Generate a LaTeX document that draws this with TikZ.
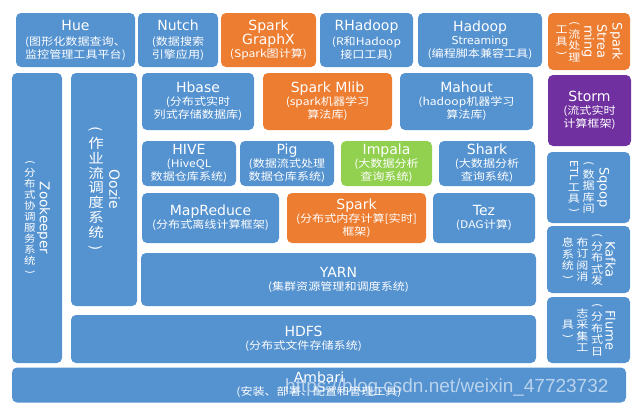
\documentclass[tikz,border=0pt]{standalone}
\usepackage{fontspec}
\setmainfont{DejaVu Sans}
\newfontfamily\cjk[FakeStretch=1.15]{Noto Sans CJK SC}
\newfontfamily\wmfont{Liberation Sans}
\usepackage{graphicx}
\usetikzlibrary{positioning}
\definecolor{hblue}{RGB}{84,146,208}
\definecolor{horange}{RGB}{237,125,49}
\definecolor{hgreen}{RGB}{146,208,80}
\definecolor{hpurple}{RGB}{112,48,160}

% title line, vertical columns, rotated latin words
\newcommand{\ttl}[1]{{\rmfamily\fontsize{14}{16}\selectfont #1}}
\newcommand{\vcolbody}[1]{\baselineskip=1.1em\lineskiplimit=-\maxdimen
  \def\\{\hss\egroup\hbox to 1.2em\bgroup\hss}%
  \hbox to 1.2em\bgroup\hss#1\hss\egroup}
\newcommand{\vtxt}[2][c]{\if c#1$\vcenter{\vcolbody{#2}}$\else\vtop{\vcolbody{#2}}\fi}
\newcommand{\rt}[1]{\raisebox{.8em}{\rotatebox{-90}{\rmfamily #1}}}
\newcommand{\rtc}[1]{$\vcenter{\hbox{\rt{#1}}}$}
\newcommand{\rp}[1]{\rotatebox[origin=c]{-90}{#1}}

\tikzset{
  blk/.style={rounded corners=5pt, fill=hblue, text=white, align=center,
    inner sep=0pt, font=\cjk\fontsize{10.5}{13}\selectfont},
  vblk/.style={rounded corners=5pt, fill=hblue, text=white,
    inner sep=0pt, font=\cjk\fontsize{10.5}{11.5}\selectfont},
}

\begin{document}
\begin{tikzpicture}[x=1pt,y=-1pt]
    \useasboundingbox (0,0) rectangle (637,413);

    % Top row
    \node[blk, minimum width=119, minimum height=54] (hue) at (75.5,40)
      {\ttl{Hue}\\[2pt](图形化数据查询、\\监控管理工具平台)};
    \node[blk, minimum width=80, minimum height=54] (nutch) at (178,40)
      {\ttl{Nutch}\\[2pt](数据搜索\\引擎应用)};
    \node[blk, fill=horange, minimum width=95, minimum height=54] (graphx) at (268.5,40)
      {\ttl{Spark}\\\ttl{GraphX}\\(Spark图计算)};
    \node[blk, minimum width=93, minimum height=54] (rhadoop) at (366.5,40)
      {\ttl{RHadoop}\\[2pt](R和Hadoop\\接口工具)};
    \node[blk, minimum width=124, minimum height=54] (hstream) at (480,40)
      {\ttl{Hadoop}\\{\rmfamily\fontsize{11}{13}\selectfont Streaming}\\(编程脚本兼容工具)};
    \node[vblk, fill=horange, minimum width=82, minimum height=57] (sstream) at (589,41.5)
      {\vtxt{工\\具\\\rp{)}}\vtxt{\rp{(}\\流\\处\\理}\hspace{1pt}%
       \rtc{\fontsize{13}{14}\selectfont ming}\hspace{3pt}%
       \rtc{\fontsize{13}{14}\selectfont Strea}\hspace{3pt}%
       \rtc{\fontsize{13}{14}\selectfont Spark}};

    % Left columns
    \node[vblk, minimum width=50, minimum height=290, font=\cjk\fontsize{10}{11}\selectfont] (zk) at (37,218)
      {\vtxt{\rp{(}\\分\\布\\式\\协\\调\\服\\务\\系\\统\\\rp{)}}\hspace{1pt}%
       \rtc{\fontsize{13.5}{15}\selectfont Zookeeper}};
    \node[vblk, minimum width=66, minimum height=233, font=\cjk\fontsize{13.5}{16}\selectfont] (oozie) at (104,189.5)
      {\vtxt{\rp{(}\\作\\业\\流\\调\\度\\系\\统\\\rp{)}}\hspace{5pt}%
       \rtc{\fontsize{14}{15}\selectfont Oozie}};

    % Second row
    \node[blk, minimum width=112, minimum height=57] (hbase) at (198,101.5)
      {\ttl{Hbase}\\(分布式实时\\列式存储数据库)};
    \node[blk, fill=horange, minimum width=129, minimum height=57] (mlib) at (327.5,101.5)
      {\ttl{Spark Mlib}\\(spark机器学习\\算法库)};
    \node[blk, minimum width=133, minimum height=57] (mahout) at (466.5,101.5)
      {\ttl{Mahout}\\(hadoop机器学习\\算法库)};
    \node[blk, fill=hpurple, minimum width=83, minimum height=71] (storm) at (589.5,110.5)
      {\ttl{Storm}\\(流式实时\\计算框架)};

    % Third row
    \node[blk, minimum width=94, minimum height=45] (hive) at (189,163.5)
      {\ttl{HIVE}\\(HiveQL\\数据仓库系统)};
    \node[blk, minimum width=94, minimum height=45] (pig) at (287,163.5)
      {\ttl{Pig}\\(数据流式处理\\数据仓库系统)};
    \node[blk, fill=hgreen, minimum width=91, minimum height=45] (impala) at (386.5,163.5)
      {\ttl{Impala}\\(大数据分析\\查询系统)};
    \node[blk, minimum width=96, minimum height=45] (shark) at (487,163.5)
      {\ttl{Shark}\\(大数据分析\\查询系统)};

    % Fourth row
    \node[blk, minimum width=137, minimum height=50] (mapred) at (210.5,218)
      {\ttl{MapReduce}\\(分布式离线计算框架)};
    \node[blk, fill=horange, minimum width=139, minimum height=50] (spark) at (356.5,218)
      {\ttl{Spark}\\(分布式内存计算[实时]\\框架)};
    \node[blk, minimum width=102, minimum height=50] (tez) at (484,218)
      {\ttl{Tez}\\(DAG计算)};

    % Base layers
    \node[blk, minimum width=395, minimum height=53] (yarn) at (338.5,279.5)
      {\ttl{YARN}\\(集群资源管理和调度系统)};
    \node[blk, minimum width=465, minimum height=48] (hdfs) at (303.5,339)
      {\ttl{HDFS}\\(分布式文件存储系统)};
    \node[blk, minimum width=614, minimum height=35] (ambari) at (319,385)
      {\ttl{Ambari}\\(安装、部署、配置和管理工具)};

    % Right column
    \node[vblk, minimum width=83, minimum height=71] (sqoop) at (588.5,187.5)
      {$\vcenter{\offinterlineskip\hbox to 1.2em{\hss\rt{\fontsize{11}{12}\selectfont ETL}\hss}\kern3pt
         \hbox{\vtxt[t]{工\\具\\\rp{)}}}}$\hspace{2pt}%
       \vtxt{\rp{(}\\数\\据\\库\\间}\hspace{2pt}%
       \rtc{\fontsize{13}{14}\selectfont Sqoop}};
    \node[vblk, minimum width=83, minimum height=67] (kafka) at (588.5,259.5)
      {\vtxt{息\\系\\统\\\rp{)}}\hspace{2pt}\vtxt{布\\订\\阅\\消}\hspace{2pt}%
       \vtxt{\rp{(}\\分\\布\\式\\发}\hspace{2pt}%
       \rtc{\fontsize{13}{14}\selectfont Kafka}};
    \node[vblk, minimum width=83, minimum height=66] (flume) at (588.5,330)
      {\vtxt{具\\\rp{)}}\hspace{2pt}\vtxt{志\\采\\集\\工}\hspace{2pt}%
       \vtxt{\rp{(}\\分\\布\\式\\日}\hspace{2pt}%
       \rtc{\fontsize{13}{14}\selectfont Flume}};

    % Watermark
    \node[font=\wmfont\fontsize{19}{20}\selectfont, text=white, opacity=.6,
      anchor=base west, inner sep=0pt] (wm) at (285,392)
      {https://blog.csdn.net/weixin\_47723732};
\end{tikzpicture}
\end{document}
